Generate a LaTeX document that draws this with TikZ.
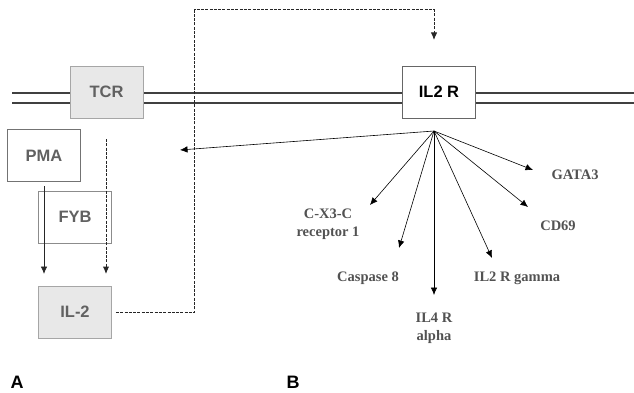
\documentclass[tikz,border=0pt]{standalone}
\usepackage{fontspec}
\setmainfont{Liberation Serif}
\setsansfont{Liberation Sans}
\usetikzlibrary{arrows.meta}

\begin{document}
\begin{tikzpicture}[x=1pt, y=-1pt,
	box/.style={draw=black!55, line width=0.8pt, fill=white, minimum width=73pt, minimum height=52pt, inner sep=0pt, font=\sffamily\bfseries\fontsize{16.5}{16.5}\selectfont, text=black!62},
	gbox/.style={box, draw=black!35, fill=black!9},
	gene/.style={font=\bfseries\fontsize{14.5}{17.5}\selectfont, text=black!68, align=center},
	tip/.style={-{Latex[length=7.5, width=6.5]}},
	memb/.style={line width=1.2pt, black!75},
	feedback/.style={line width=1pt, black!85, dash pattern=on 3pt off 1.3pt}]
	\useasboundingbox (0,0) rectangle (634,393);
	% membrane
	\draw[memb] (12,93) -- (634,93);
	\draw[memb] (12,103) -- (634,103);
	% part A
	\node[gbox] (tcr) at (106.5,92) {TCR};
	\node[box] (pma) at (44,155.5) {PMA};
	\node[box, draw=black!45] (fyb) at (75,217) {FYB};
	\node[gbox] (il2) at (75,312) {IL-2};
	\coordinate (s1) at (44,186);
	\coordinate (e1) at (44,274);
	\coordinate (s2) at (106,139);
	\coordinate (e2) at (106,274);
	\draw[tip, line width=0.8pt, black!85] (s1) -- (e1);
	\draw[tip, feedback] (s2) -- (e2);
	% part B
	\node[box, text=black, draw=black!60] (il2r) at (439,92) {IL2 R};
	\coordinate (hub) at (434,131);
	\coordinate (fbend) at (434,40);
	\draw[tip, feedback, shorten <=4pt] (il2.east) -- ++(83,0) |- (434,10) -- (fbend);
	\coordinate (left) at (180,150);
	\draw[tip, line width=0.6pt] (hub) -- (left);
	\node[gene] (gata) at (575,175) {GATA3};
	\node[gene] (cd69) at (558,226) {CD69};
	\node[gene] (il2rg) at (517,278) {IL2 R gamma};
	\node[gene] (il4ra) at (434,328.5) {IL4 R\\alpha};
	\node[gene] (casp) at (368,278) {Caspase 8};
	\node[gene] (cx3cr) at (328,224) {C-X3-C\\receptor 1};
	\foreach \t in {(533,170), (528,207), (492,258), (434,295), (399,248), (370,205)}
		\draw[tip, line width=0.6pt] (hub) -- \t;
	% panel letters
	\node[font=\sffamily\bfseries\fontsize{18}{18}\selectfont] (labA) at (17,382) {A};
	\node[font=\sffamily\bfseries\fontsize{18}{18}\selectfont] (labB) at (293,382) {B};
\end{tikzpicture}
\end{document}
